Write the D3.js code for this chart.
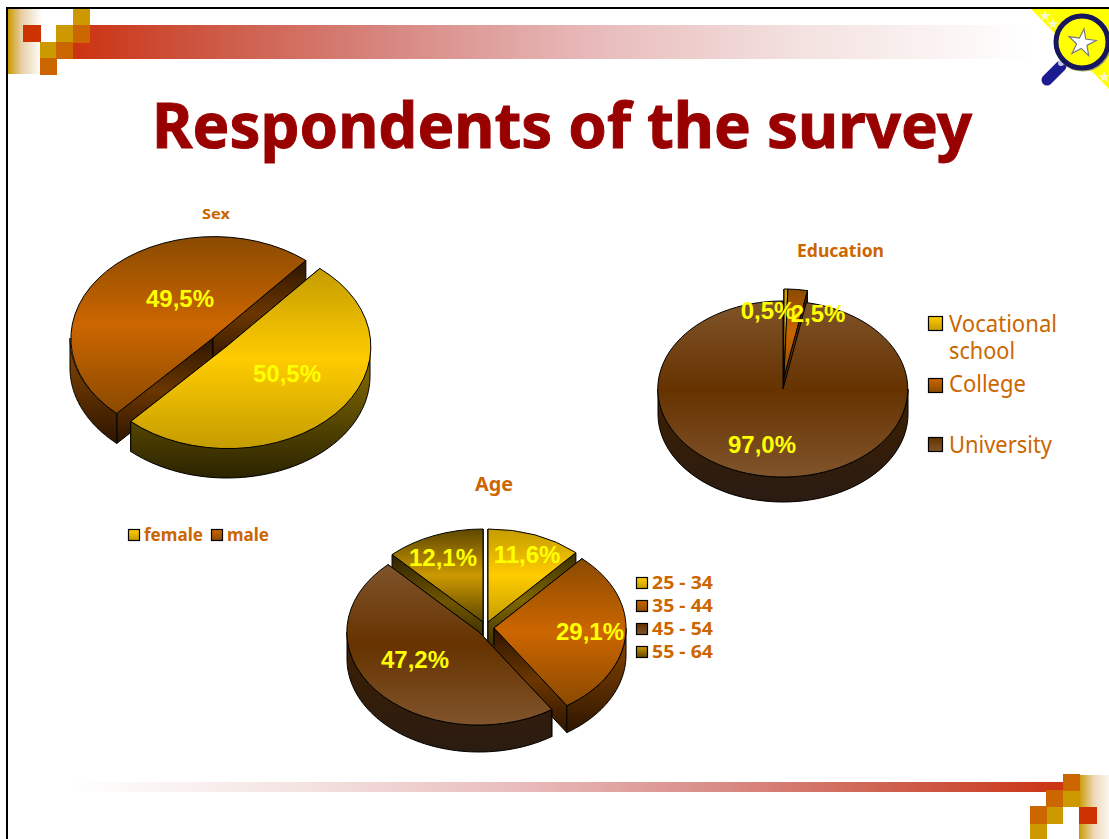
<!DOCTYPE html>
<html>
<head>
<meta charset="utf-8">
<title>Respondents of the survey</title>
<script src="https://cdn.jsdelivr.net/npm/d3@7/dist/d3.min.js"></script>
<style>
  html, body { margin: 0; padding: 0; background: #fff; }
  svg { display: block; }
  .heading { font-family: "Noto Sans", "DejaVu Sans", sans-serif; }
  .value { font-family: "Liberation Sans", Arial, sans-serif; font-weight: bold; fill: #ffff00; font-size: 24px; text-anchor: middle; }
</style>
</head>
<body>
<svg id="slide" width="1109" height="839"></svg>
<script>
// Survey results, in percent
const sexCategories = ["female", "male"];
const sexValues = [50.5, 49.5];
const educationCategories = ["Vocational school", "College", "University"];
const educationValues = [0.5, 2.5, 97.0];
const ageCategories = ["25 - 34", "35 - 44", "45 - 54", "55 - 64"];
const ageValues = [11.6, 29.1, 47.2, 12.1];

// Shading per colour family: top face edge/centre, outer wall top/bottom, cut face edge/centre
const palette = {
  yellow: { edge: "#c49c00", mid: "#ffcc00", wallA: "#8f7400", wallB: "#2b2300", faceA: "#3a2e00", faceB: "#806600" },
  orange: { edge: "#8a4a00", mid: "#cc6600", wallA: "#8f4a00", wallB: "#2e1500", faceA: "#2e1500", faceB: "#6b3600" },
  brown:  { edge: "#80542b", mid: "#663300", wallA: "#3e2000", wallB: "#2a1b12", faceA: "#2a1b12", faceB: "#3e2000" },
  gold:   { edge: "#5e4700", mid: "#cc9900", wallA: "#806000", wallB: "#2e2300", faceA: "#2e2300", faceB: "#705500" }
};
const seriesColours = ["yellow", "orange", "brown", "gold"];

const svg = d3.select("#slide");
const defs = svg.append("defs");

function addGradient(id, stops, horizontal) {
  const g = defs.append("linearGradient").attr("id", id)
    .attr("x1", 0).attr("y1", 0)
    .attr("x2", horizontal ? 1 : 0).attr("y2", horizontal ? 0 : 1);
  stops.forEach(([offset, colour]) => g.append("stop").attr("offset", offset).attr("stop-color", colour));
}
Object.entries(palette).forEach(([name, p]) => {
  addGradient(`top-${name}`, [[0, p.edge], [0.5, p.mid], [1, p.edge]]);
  addGradient(`wall-${name}`, [[0, p.wallA], [1, p.wallB]]);
  addGradient(`face-${name}`, [[0, p.faceA], [0.5, p.faceB], [1, p.faceA]]);
  addGradient(`key-${name}`, [[0, p.mid], [1, p.edge]]);
});
addGradient("band-top", [[0, "#cc3311"], [0.13, "#cc5540"], [0.34, "#d88a84"], [0.55, "#e8bcbc"], [0.76, "#f3e2e0"], [1, "#ffffff"]], true);
addGradient("band-bottom", [[0, "#ffffff"], [0.24, "#f3e2e0"], [0.45, "#e8bcbc"], [0.66, "#d88a84"], [0.87, "#cc5540"], [1, "#cc3311"]], true);
addGradient("fade-left", [[0, "#cc9900"], [0.4, "#e6cfa6"], [1, "#ffffff"]], true);
addGradient("fade-right", [[0, "#cc9900"], [0.5, "#ecd9b8"], [1, "#fbf6f0"]], true);

// Slide furniture: corner bands, chequered squares and the frame
const decor = svg.append("g");
decor.append("rect").attr("x", 8).attr("y", 9).attr("width", 34).attr("height", 65).attr("fill", "url(#fade-left)");
decor.append("rect").attr("x", 73).attr("y", 25).attr("width", 960).attr("height", 34).attr("fill", "url(#band-top)");
decor.append("rect").attr("x", 1079).attr("y", 775).attr("width", 30).attr("height", 64).attr("fill", "url(#fade-right)");
decor.append("rect").attr("x", 70).attr("y", 782).attr("width", 994).attr("height", 10).attr("fill", "url(#band-bottom)");

const squareColours = { gold: "#cc9900", orange: "#cc6600", red: "#cc3300" };
const squares = [
  [73, 9, 17, 16, "gold"], [23, 25, 18, 17, "red"], [56, 25, 17, 17, "gold"], [73, 25, 17, 18, "orange"],
  [40, 42, 16, 16, "gold"], [56, 42, 17, 17, "orange"], [40, 58, 17, 17, "orange"],
  [1063, 774, 17, 17, "orange"], [1046, 790, 17, 17, "orange"], [1063, 791, 17, 16, "gold"],
  [1030, 806, 17, 18, "orange"], [1047, 807, 16, 17, "gold"], [1030, 824, 17, 15, "gold"], [1079, 807, 18, 17, "red"]
];
decor.selectAll("rect.square").data(squares).join("rect").attr("class", "square")
  .attr("x", d => d[0]).attr("y", d => d[1]).attr("width", d => d[2]).attr("height", d => d[3])
  .attr("fill", d => squareColours[d[4]]);

decor.append("path").attr("d", "M6,8H1109M7,8V839").attr("fill", "none").attr("stroke", "#000").attr("stroke-width", 2);

// Magnifying-glass emblem in the top-right corner
const emblem = svg.append("g");
emblem.append("path").attr("d", "M1031,9H1109V89Z").attr("fill", "#ffff00");
const starPath = d3.symbol().type(d3.symbolStar);
[[1045, 16, 40], [1053, 24, 40], [1104, 77, 40]].forEach(([x, y, size]) => {
  emblem.append("path").attr("d", starPath.size(size)()).attr("transform", `translate(${x},${y})`).attr("fill", "#f7f7d8");
});
emblem.append("line").attr("x1", 1061).attr("y1", 66).attr("x2", 1047).attr("y2", 80)
  .attr("stroke", "#1c1c90").attr("stroke-width", 11).attr("stroke-linecap", "round");
emblem.append("circle").attr("cx", 1061).attr("cy", 63).attr("r", 3).attr("fill", "#c8c8e8");
emblem.append("circle").attr("cx", 1083).attr("cy", 43).attr("r", 27).attr("fill", "none").attr("stroke", "#a8a860").attr("stroke-width", 3);
emblem.append("circle").attr("cx", 1082).attr("cy", 42).attr("r", 26).attr("fill", "#ffff00").attr("stroke", "#16165e").attr("stroke-width", 5);
emblem.append("path").attr("d", starPath.size(230)()).attr("transform", "translate(1082,43) rotate(8)")
  .attr("fill", "#ffffff").attr("stroke", "#777788").attr("stroke-width", 1.2);

const textColour = "#cc6600";
function heading(x, y, str, size, width, weight) {
  return svg.append("text").attr("class", "heading").attr("x", x).attr("y", y).text(str)
    .attr("font-size", size).attr("font-weight", weight || "bold").attr("fill", textColour)
    .attr("textLength", width).attr("lengthAdjust", "spacingAndGlyphs");
}
heading(152, 148, "Respondents of the survey", 63, 820)
  .attr("fill", "#990000").attr("stroke", "#990000").attr("stroke-width", 1);

// Extruded pie: each slice gets cut faces, an outer wall and a shaded top
function drawPie(cfg) {
  const { values, colours, startAngle, rx, ry, depth, centres, order } = cfg;
  const slices = d3.pie().sort(null).startAngle(startAngle).endAngle(startAngle + 2 * Math.PI)(values);
  const g = svg.append("g");
  const radial = d3.arc().innerRadius(0).outerRadius(1);
  const outline = d3.line();
  const rim = (c, a) => [c[0] + rx * Math.sin(a), c[1] - ry * Math.cos(a)];

  const drawBody = i => {
    const s = slices[i], c = centres[i], name = colours[i];
    [s.startAngle, s.endAngle].forEach(a => {
      const p = rim(c, a);
      g.append("path").attr("fill", `url(#face-${name})`).attr("stroke", "#000").attr("stroke-width", 1)
        .attr("d", outline([c, p, [p[0], p[1] + depth], [c[0], c[1] + depth]]) + "Z");
    });
    // The outer wall only shows on the front half of the ellipse
    const from = Math.max(s.startAngle, Math.PI / 2), to = Math.min(s.endAngle, 3 * Math.PI / 2);
    if (to > from) {
      const angles = d3.range(0, 61).map(k => from + (to - from) * k / 60);
      const area = d3.area().x(a => rim(c, a)[0]).y0(a => rim(c, a)[1]).y1(a => rim(c, a)[1] + depth);
      g.append("path").attr("d", area(angles)).attr("fill", `url(#wall-${name})`).attr("stroke", "#000").attr("stroke-width", 1);
    }
  };
  const drawTop = i => {
    const s = slices[i], c = centres[i], name = colours[i];
    g.append("path").attr("d", radial({ startAngle: s.startAngle, endAngle: s.endAngle }))
      .attr("transform", `translate(${c[0]},${c[1]}) scale(${rx},${ry})`)
      .attr("fill", `url(#top-${name})`).attr("stroke", "#000").attr("stroke-width", 1)
      .attr("vector-effect", "non-scaling-stroke");
  };
  order.forEach(i => { drawBody(i); });
  order.forEach(i => { drawTop(i); });
  return slices;
}

function drawLabels(values, positions) {
  svg.append("g").selectAll("text").data(values).join("text").attr("class", "value")
    .attr("x", (d, i) => positions[i][0]).attr("y", (d, i) => positions[i][1])
    .text(d => d.toFixed(1).replace(".", ",") + "%");
}

function legendKey(x, y, size, name) {
  svg.append("rect").attr("x", x + 0.5).attr("y", y + 0.5).attr("width", size).attr("height", size)
    .attr("fill", `url(#key-${name})`).attr("stroke", "#000").attr("stroke-width", 1.2);
}

const rad = d => d * Math.PI / 180;

// Sex
heading(202, 219, "Sex", 15, 28);
drawPie({
  values: sexValues, colours: ["yellow", "orange"],
  startAngle: rad(40.5), rx: 143, ry: 102, depth: 30,
  centres: [[227, 346], [213, 338]], order: [1, 0]
});
drawLabels(sexValues, [[287, 382], [180, 307]]);
legendKey(128, 529, 11, "yellow");
heading(144, 541, sexCategories[0], 17, 59);
legendKey(211, 529, 11, "orange");
heading(227, 541, sexCategories[1], 17, 42);

// Education: the two narrow slices sit behind the large slice's gap
heading(797, 257, "Education", 17, 87);
drawPie({
  values: educationValues, colours: ["yellow", "orange", "brown"],
  startAngle: 0, rx: 125, ry: 88, depth: 25,
  centres: [[784, 377], [784, 377], [783, 389]], order: [2, 0, 1]
});
drawLabels(educationValues, [[768, 319], [818, 322], [762, 453]]);
legendKey(928, 316, 14, "yellow");
legendKey(928, 378, 14, "orange");
legendKey(928, 437, 14, "brown");
heading(949, 332, "Vocational", 23, 108, "normal");
heading(949, 359, "school", 23, 66, "normal");
heading(949, 392, educationCategories[1], 23, 77, "normal");
heading(949, 453, educationCategories[2], 23, 103, "normal");

// Age
heading(475, 491, "Age", 20, 38);
drawPie({
  values: ageValues, colours: ["yellow", "orange", "brown", "gold"],
  startAngle: 0, rx: 132, ry: 93, depth: 27,
  centres: [[488, 622], [494, 628], [479, 632], [483, 622]], order: [3, 0, 1, 2]
});
drawLabels(ageValues, [[527, 563], [590, 640], [415, 668], [443, 566]]);
ageCategories.forEach((label, i) => {
  legendKey(636, 577 + i * 23, 11, seriesColours[i]);
  heading(652, 589 + i * 23, label, 17, 61);
});
</script>
</body>
</html>
